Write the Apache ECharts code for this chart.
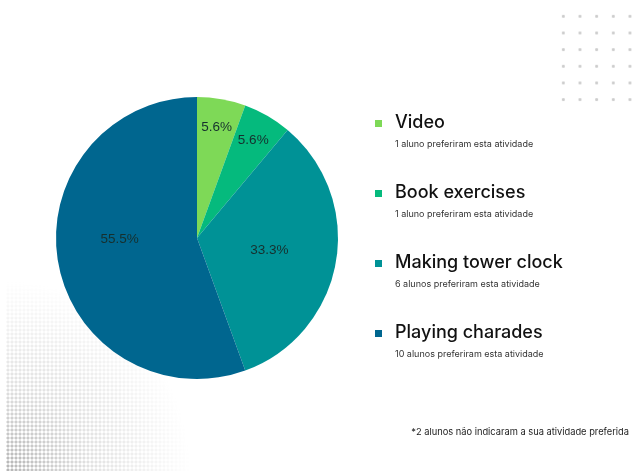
<!DOCTYPE html>
<html><head><meta charset="utf-8">
<script src="https://cdn.jsdelivr.net/npm/echarts/dist/echarts.min.js"></script>
<style>
html,body{margin:0;padding:0;background:#fff;}
#wrap{position:relative;width:632px;height:471px;overflow:hidden;background:#fff;}
.dots-tr{position:absolute;left:555px;top:8px;width:84px;height:100px;
  background-image:radial-gradient(circle,#cdcdcd 1.2px,rgba(255,255,255,0) 1.8px);
  background-size:16.67px 16.67px;}
.dots-bl{position:absolute;left:6px;top:280px;width:185px;height:191px;
  background-image:radial-gradient(circle,#b5b5b5 1.3px,rgba(255,255,255,0) 1.8px);
  background-size:4px 4px;
  -webkit-mask-image:radial-gradient(ellipse 100% 100% at 0% 100%,#000 0%,rgba(0,0,0,0.4) 45%,rgba(0,0,0,0) 100%);
  mask-image:radial-gradient(ellipse 100% 100% at 0% 100%,#000 0%,rgba(0,0,0,0.4) 45%,rgba(0,0,0,0) 100%);}
#chart{position:absolute;left:0;top:0;width:632px;height:471px;}
</style></head>
<body>
<div id="wrap">
  <div class="dots-tr"></div>
  <div class="dots-bl"></div>
  <div id="chart"></div>
</div>
<script>
const categories = ['Video', 'Book exercises', 'Making tower clock', 'Playing charades'];
const studentCounts = [1, 1, 6, 10];
const sliceColors = ['#7ED957', '#05BA7D', '#009296', '#00668F'];
const subtitleSuffix = 'preferiram esta atividade';
const footnote = '*2 alunos não indicaram a sua atividade preferida';
const smallShare = 10;

const labelFont = { fontFamily: 'Liberation Sans', fontSize: 13.5, color: '#16302e' };

// the largest slice's label sits level with the pie centre in the reference
const pieData = categories.map((name, i) => {
  const item = { name: name, value: studentCounts[i], itemStyle: { color: sliceColors[i] } };
  if (i === categories.length - 1) item.label = { offset: [-5, -11] };
  return item;
});
const overlayData = categories.map((name, i) => ({ name: name, value: studentCounts[i] }));

const chart = echarts.init(document.getElementById('chart'), null, { renderer: 'canvas' });
chart.setOption({
  animation: false,
  backgroundColor: 'transparent',
  title: {
    text: footnote, right: 3, top: 428, padding: 0,
    textStyle: { fontFamily: 'Inter', fontSize: 9.3, fontWeight: 'normal', color: '#222' }
  },
  legend: {
    orient: 'vertical', left: 375, top: 114, padding: 0, itemGap: 35,
    itemWidth: 15, itemHeight: 7, icon: 'path://M0,0H10V10H0Z', selectedMode: false,
    data: categories.map((name, i) => ({ name: name, itemStyle: { color: sliceColors[i] } })),
    formatter: function (name) {
      const i = categories.indexOf(name);
      const n = studentCounts[i];
      return '{t|' + name + '}\n{s|' + n + ' ' + (n === 1 ? 'aluno' : 'alunos') + ' ' + subtitleSuffix + '}';
    },
    textStyle: {
      padding: [20, 0, 0, 4],
      rich: {
        t: { fontFamily: 'Inter', fontSize: 18, fontWeight: 500, color: '#111', lineHeight: 22 },
        s: { fontFamily: 'Inter', fontSize: 9, color: '#333', lineHeight: 21 }
      }
    }
  },
  series: [
    {
      type: 'pie', name: 'Atividade preferida', center: [197, 238], radius: [0, 141],
      startAngle: 90, clockwise: true, percentPrecision: 1,
      data: pieData,
      itemStyle: { borderWidth: 0 },
      label: Object.assign({ position: 'inside', formatter: p => p.percent >= smallShare ? p.percent + '%' : '' }, labelFont),
      labelLine: { show: false },
      emphasis: { disabled: true }
    },
    {
      type: 'pie', name: 'small-slice-labels', center: [197, 238], radius: [78, 141],
      startAngle: 90, clockwise: true, percentPrecision: 1, silent: true,
      data: overlayData,
      itemStyle: { color: 'rgba(0,0,0,0)', borderWidth: 0 },
      label: Object.assign({ position: 'inside', formatter: p => p.percent < smallShare ? p.percent + '%' : '' }, labelFont),
      labelLine: { show: false },
      emphasis: { disabled: true }
    }
  ]
});
</script>
</body></html>
